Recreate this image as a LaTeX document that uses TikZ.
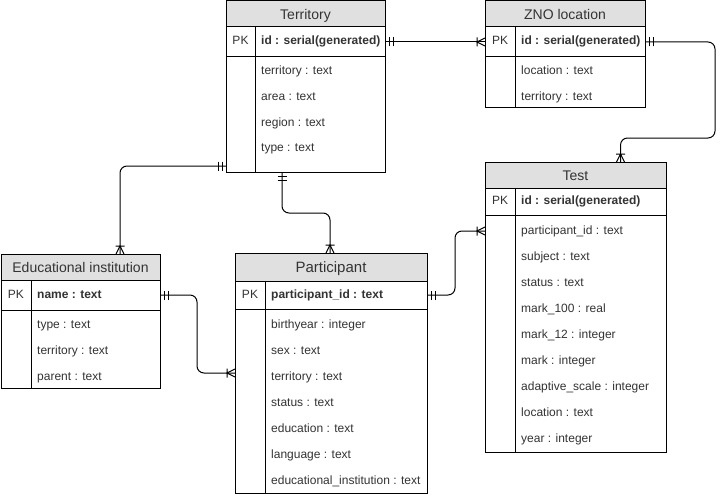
\documentclass[tikz,border=0pt]{standalone}
\usepackage{fontspec}
\setmainfont{Liberation Sans}
\usetikzlibrary{calc}
\definecolor{hdrfill}{HTML}{E0E0E0}
\definecolor{txt}{HTML}{333333}
\tikzset{
  frame/.style={draw=black, line width=1pt, inner sep=0pt, outer sep=0pt, rectangle},
  hdr/.style={frame, fill=hdrfill, text=txt, font=\fontsize{14}{16}\selectfont, text height=13pt, text depth=2pt},
  fld/.style={text=txt, inner sep=0pt, anchor=west, font=\fontsize{12}{14}\selectfont, text height=9pt, text depth=2.5pt},
  pkfld/.style={fld, font=\fontsize{12}{14}\selectfont\bfseries},
  pklbl/.style={text=txt, inner sep=0pt, font=\fontsize{12}{14}\selectfont, text height=9pt, text depth=2.5pt},
  conn/.style={draw=black, line width=1pt, rounded corners=7pt},
  mk/.style={draw=black, line width=1pt}
}
\newcommand{\mandone}[2]{\begin{scope}[shift={(#1)},rotate=#2]\draw[mk] (4pt,-4.5pt)--(4pt,4.5pt) (8pt,-4.5pt)--(8pt,4.5pt);\end{scope}}
\newcommand{\onemany}[2]{\begin{scope}[shift={(#1)},rotate=#2]\draw[mk] (0pt,-4pt)--(8pt,0pt)--(0pt,4pt) (8pt,-4.5pt)--(8pt,4.5pt);\end{scope}}
\begin{document}
\begin{tikzpicture}[x=1pt,y=-1pt]
\useasboundingbox[fill=white] (0,0) rectangle (725,495);
% ---------- Territory
\node[hdr, minimum width=159, minimum height=26, anchor=north west] (terrh) at (226,1) {Territory};
\node[frame, minimum width=159, minimum height=30, anchor=north west] (terrpk) at (terrh.south west) {};
\node[frame, minimum width=159, minimum height=115, anchor=north west] (terrb) at (terrpk.south west) {};
\draw[mk] (255,27) -- (255,172);
\node[pklbl] at (240.5,41) {PK};
\node[pkfld] at (261,41) {id : serial(generated)};
\node[fld] at (261,71) {territory : text};
\node[fld] at (261,97) {area : text};
\node[fld] at (261,123) {region : text};
\node[fld] at (261,148) {type : text};
% ---------- ZNO location
\node[hdr, minimum width=160, minimum height=26, anchor=north west] (znoh) at (485,1) {ZNO location};
\node[frame, minimum width=160, minimum height=30, anchor=north west] (znopk) at (znoh.south west) {};
\node[frame, minimum width=160, minimum height=50, anchor=north west] (znob) at (znopk.south west) {};
\draw[mk] (515,27) -- (515,107);
\node[pklbl] at (500,41) {PK};
\node[pkfld] at (521,41) {id : serial(generated)};
\node[fld] at (521,71) {location : text};
\node[fld] at (521,97) {territory : text};
% ---------- Test
\node[hdr, minimum width=181, minimum height=26, anchor=north west] (testh) at (485,162) {Test};
\node[frame, minimum width=181, minimum height=27, anchor=north west] (testpk) at (testh.south west) {};
\node[frame, minimum width=181, minimum height=237, anchor=north west] (testb) at (testpk.south west) {};
\draw[mk] (515,188) -- (515,452);
\node[pklbl] at (500,201) {PK};
\node[pkfld] at (521,201) {id : serial(generated)};
\node[fld] at (521,231) {participant\_id : text};
\node[fld] at (521,257) {subject : text};
\node[fld] at (521,283) {status : text};
\node[fld] at (521,309) {mark\_100 : real};
\node[fld] at (521,335) {mark\_12 : integer};
\node[fld] at (521,361) {mark : integer};
\node[fld] at (521,387) {adaptive\_scale : integer};
\node[fld] at (521,413) {location : text};
\node[fld] at (521,439) {year : integer};
% ---------- Educational institution
\node[hdr, minimum width=159, minimum height=26, anchor=north west] (eduh) at (1,254) {Educational institution};
\node[frame, minimum width=159, minimum height=30, anchor=north west] (edupk) at (eduh.south west) {};
\node[frame, minimum width=159, minimum height=78, anchor=north west] (edub) at (edupk.south west) {};
\draw[mk] (31,280) -- (31,388);
\node[pklbl] at (16,295) {PK};
\node[pkfld] at (37,295) {name : text};
\node[fld] at (37,325) {type : text};
\node[fld] at (37,351) {territory : text};
\node[fld] at (37,377) {parent : text};
% ---------- Participant
\node[hdr, minimum width=192, minimum height=28, anchor=north west, font=\fontsize{15}{17}\selectfont] (parth) at (235,253) {Participant};
\node[frame, minimum width=192, minimum height=28, anchor=north west] (partpk) at (parth.south west) {};
\node[frame, minimum width=192, minimum height=184, anchor=north west] (partb) at (partpk.south west) {};
\draw[mk] (265,281) -- (265,493);
\node[pklbl] at (250,295) {PK};
\node[pkfld] at (271,295) {participant\_id : text};
\node[fld] at (271,325) {birthyear : integer};
\node[fld] at (271,351) {sex : text};
\node[fld] at (271,377) {territory : text};
\node[fld] at (271,403) {status : text};
\node[fld] at (271,429) {education : text};
\node[fld] at (271,455) {language : text};
\node[fld] at (271,481) {educational\_institution : text};
% ---------- connector end points
\coordinate (testtop) at ([xshift=45pt]testh.north);
\coordinate (terrleft) at ([yshift=6pt]terrb.south west);
\coordinate (edutop) at ([xshift=119pt]eduh.north west);
\coordinate (terrbot) at ([xshift=56pt]terrb.south west);
\coordinate (parttop) at ([xshift=95pt]parth.north west);
\coordinate (partleft) at ([yshift=-64pt]partb.north west);
\coordinate (testleft) at ([yshift=-16pt]testb.north west);
% ---------- connectors
\draw[conn] (terrpk.east) -- (znopk.west);
\mandone{terrpk.east}{0}
\onemany{znopk.west}{180}
\draw[conn] (znopk.east) -- ++(70,0) -- ++(0,96) -| (testtop);
\mandone{znopk.east}{0}
\onemany{testtop}{90}
\draw[conn] (terrleft) -| (edutop);
\mandone{terrleft}{180}
\onemany{edutop}{90}
\draw[conn] (terrbot) -- ++(0,41) -| (parttop);
\mandone{terrbot}{270}
\onemany{parttop}{90}
\draw[conn] (edupk.east) -- ++(37,0) |- (partleft);
\mandone{edupk.east}{0}
\onemany{partleft}{180}
\draw[conn] (partpk.east) -- ++(28,0) |- (testleft);
\mandone{partpk.east}{0}
\onemany{testleft}{180}
\end{tikzpicture}
\end{document}
